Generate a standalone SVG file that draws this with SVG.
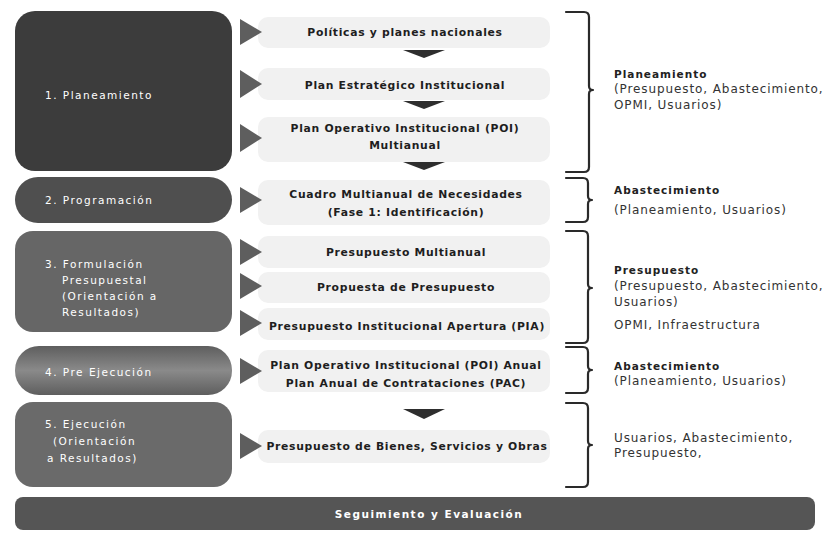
<svg xmlns="http://www.w3.org/2000/svg" width="830" height="533" viewBox="0 0 830 533">
<defs>
<style>
.stage{stroke:none}
.lbl{font-family:"DejaVu Sans","Liberation Sans",sans-serif;font-size:10.5px;letter-spacing:1.5px;fill:#ffffff}
.step{fill:#f1f1f1}
.mt{font-family:"DejaVu Sans","Liberation Sans",sans-serif;font-size:10.8px;letter-spacing:0.7px;font-weight:bold;fill:#1e1e1e;text-anchor:middle}
.tri{fill:#5e5e5e}
.dn{fill:#2e2e2e}
.br{fill:none;stroke:#2a2a2a;stroke-width:2.2;stroke-linejoin:round;stroke-linecap:round}
.rh{font-family:"DejaVu Sans","Liberation Sans",sans-serif;font-size:10.5px;letter-spacing:1px;font-weight:bold;fill:#222}
.rt{font-family:"DejaVu Sans","Liberation Sans",sans-serif;font-size:12px;letter-spacing:0.9px;fill:#333}
</style>
<linearGradient id="stepg" x1="0" x2="1" y1="0" y2="0">
<stop offset="0" stop-color="#f7f7f7"/>
<stop offset="0.15" stop-color="#efefef"/>
<stop offset="0.85" stop-color="#efefef"/>
<stop offset="1" stop-color="#f7f7f7"/>
</linearGradient>
<linearGradient id="g4" x1="0" x2="0" y1="0" y2="1">
<stop offset="0" stop-color="#5e5e5e"/>
<stop offset="0.5" stop-color="#8a8a8a"/>
<stop offset="1" stop-color="#5e5e5e"/>
</linearGradient>
</defs>
<rect width="830" height="533" fill="#ffffff"/>

<g id="stage1">
<rect class="stage" x="15" y="11" width="217" height="160" rx="20" fill="#3c3c3c"/>
<text class="lbl" x="45" y="99">1. Planeamiento</text>
</g>
<g id="stage2">
<rect class="stage" x="15" y="177" width="217" height="46" rx="23" fill="#4f4f4f"/>
<text class="lbl" x="45" y="204">2. Programación</text>
</g>
<g id="stage3">
<rect class="stage" x="15" y="231" width="217" height="101" rx="18" fill="#666666"/>
<text class="lbl" x="45" y="268">3. Formulación</text>
<text class="lbl" x="62" y="284">Presupuestal</text>
<text class="lbl" x="62" y="300">(Orientación a</text>
<text class="lbl" x="62" y="316">Resultados)</text>
</g>
<g id="stage4">
<rect class="stage" x="15" y="346" width="217" height="49" rx="24" fill="url(#g4)"/>
<text class="lbl" x="45" y="376">4. Pre Ejecución</text>
</g>
<g id="stage5">
<rect class="stage" x="15" y="402" width="217" height="85" rx="18" fill="#6a6a6a"/>
<text class="lbl" x="45" y="428">5. Ejecución</text>
<text class="lbl" x="53" y="445">(Orientación</text>
<text class="lbl" x="47" y="462">a Resultados)</text>
</g>
<g id="seguimiento">
<rect class="stage" x="15" y="497" width="800" height="33" rx="8" fill="#555555"/>
<text class="lbl" x="429" y="518" text-anchor="middle" font-weight="bold" letter-spacing="1px" fill="#f0f0f0">Seguimiento y Evaluación</text>
</g>

<g id="step1">
<rect class="step" x="258" y="17" width="292" height="31" rx="10" fill="url(#stepg)"/>
<polygon class="tri" points="240,19 262,32 240,45"/>
<text class="mt" x="405" y="36">Políticas y planes nacionales</text>
</g>
<g id="step2">
<rect class="step" x="258" y="68" width="292" height="32" rx="10" fill="url(#stepg)"/>
<polygon class="tri" points="240,70 262,84 240,98"/>
<text class="mt" x="405" y="89">Plan Estratégico Institucional</text>
</g>
<g id="step3">
<rect class="step" x="258" y="117" width="292" height="45" rx="10" fill="url(#stepg)"/>
<polygon class="tri" points="240,124 262,138 240,152"/>
<text class="mt" x="405" y="132">Plan Operativo Institucional (POI)</text>
<text class="mt" x="405" y="149">Multianual</text>
</g>
<g id="step4">
<rect class="step" x="258" y="180" width="292" height="45" rx="10" fill="url(#stepg)"/>
<polygon class="tri" points="240,187 262,200 240,213"/>
<text class="mt" x="406" y="198">Cuadro Multianual de Necesidades</text>
<text class="mt" x="406" y="216">(Fase 1: Identificación)</text>
</g>
<g id="step5">
<rect class="step" x="258" y="236" width="292" height="32" rx="10" fill="url(#stepg)"/>
<polygon class="tri" points="240,239 262,252 240,265"/>
<text class="mt" x="406" y="256">Presupuesto Multianual</text>
</g>
<g id="step6">
<rect class="step" x="258" y="272" width="292" height="31" rx="10" fill="url(#stepg)"/>
<polygon class="tri" points="240,273 262,286 240,299"/>
<text class="mt" x="406" y="291">Propuesta de Presupuesto</text>
</g>
<g id="step7">
<rect class="step" x="258" y="308" width="292" height="32" rx="10" fill="url(#stepg)"/>
<polygon class="tri" points="240,310 262,323 240,336"/>
<text class="mt" x="407" y="330">Presupuesto Institucional Apertura (PIA)</text>
</g>
<g id="step8">
<rect class="step" x="258" y="350" width="292" height="42" rx="10" fill="url(#stepg)"/>
<polygon class="tri" points="240,358 262,371 240,384"/>
<text class="mt" x="406" y="369">Plan Operativo Institucional (POI) Anual</text>
<text class="mt" x="406" y="387">Plan Anual de Contrataciones (PAC)</text>
</g>
<g id="step9">
<rect class="step" x="258" y="430" width="292" height="33" rx="10" fill="url(#stepg)"/>
<polygon class="tri" points="240,433 262,446 240,459"/>
<text class="mt" x="407" y="450">Presupuesto de Bienes, Servicios y Obras</text>
</g>

<g id="roles1">
<text class="rh" x="614" y="78">Planeamiento</text>
<text class="rt" x="614" y="93">(Presupuesto, Abastecimiento,</text>
<text class="rt" x="614" y="109">OPMI, Usuarios)</text>
</g>
<g id="roles2">
<text class="rh" x="614" y="194">Abastecimiento</text>
<text class="rt" x="614" y="214">(Planeamiento, Usuarios)</text>
</g>
<g id="roles3">
<text class="rh" x="614" y="274">Presupuesto</text>
<text class="rt" x="614" y="290">(Presupuesto, Abastecimiento,</text>
<text class="rt" x="614" y="306">Usuarios)</text>
<text class="rt" x="614" y="329">OPMI, Infraestructura</text>
</g>
<g id="roles4">
<text class="rh" x="614" y="370">Abastecimiento</text>
<text class="rt" x="614" y="385">(Planeamiento, Usuarios)</text>
</g>
<g id="roles5">
<text class="rt" x="614" y="442">Usuarios, Abastecimiento,</text>
<text class="rt" x="614" y="457">Presupuesto,</text>
</g>

<g id="connectors">
<polygon class="dn" points="403,50 445,50 424,58"/>
<polygon class="dn" points="403,101 445,101 424,109"/>
<polygon class="dn" points="403,162 445,162 424,170"/>
<polygon class="dn" points="403,409 445,409 424,419"/>
<path class="br" d="M566,12 H584 Q589,12 589,17 V86 Q589,90 593,90 Q589,90 589,94 V167 Q589,172 584,172 H566"/>
<path class="br" d="M566,178 H583 Q588,178 588,183 V196 Q588,200 592,200 Q588,200 588,204 V217 Q588,222 583,222 H566"/>
<path class="br" d="M566,231 H583 Q588,231 588,236 V284 Q588,288 592,288 Q588,288 588,292 V338 Q588,343 583,343 H566"/>
<path class="br" d="M566,347 H583 Q588,347 588,352 V366 Q588,370 592,370 Q588,370 588,374 V388 Q588,393 583,393 H566"/>
<path class="br" d="M566,403 H583 Q588,403 588,408 V441 Q588,445 592,445 Q588,445 588,449 V482 Q588,487 583,487 H566"/>
</g>
</svg>
